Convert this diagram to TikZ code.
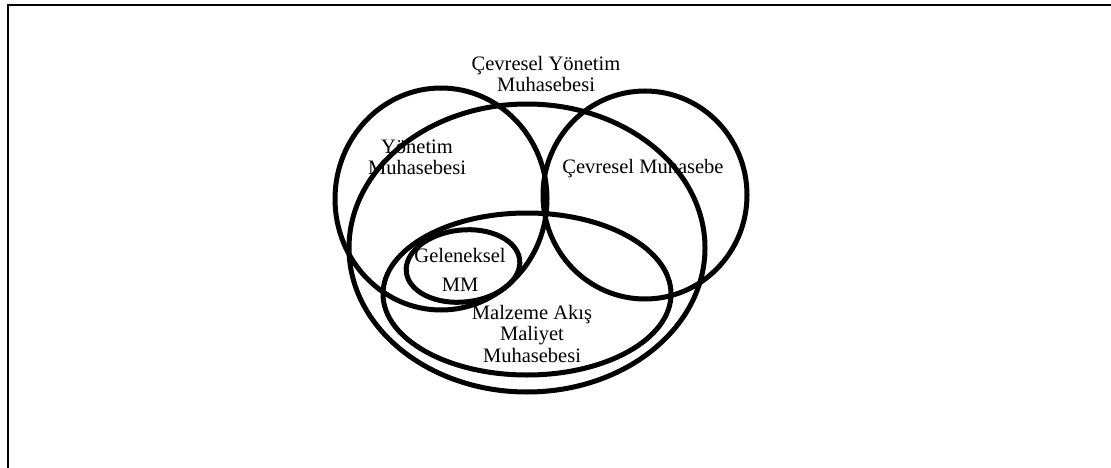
\documentclass[tikz,border=0pt]{standalone}
\usepackage{fontspec}
\setmainfont{Liberation Serif}
\begin{document}
\begin{tikzpicture}[x=1pt,y=-1pt,
  ring/.style={draw=black,line width=5pt},
  lbl/.style={align=center,inner sep=0pt,anchor=base,font=\fontsize{20.5}{21.5}\selectfont}]
\useasboundingbox (0,0) rectangle (1111,468);
% outer frame (open at right and bottom)
\draw[line width=2pt] (8,470) -- (8,5) -- (1113,5);

% sets
\draw[ring] (441,199) ellipse [x radius=106pt, y radius=111pt];   % Yonetim Muhasebesi
\draw[ring] (645,195) ellipse [x radius=102pt, y radius=104pt];   % Cevresel Muhasebe
\draw[ring] (527,248) ellipse [x radius=178pt, y radius=144pt];   % Cevresel Yonetim Muhasebesi
\draw[ring] (527,294) ellipse [x radius=144pt, y radius=81pt];    % Malzeme Akis Maliyet Muhasebesi
\draw[ring,rotate around={6:(463,266)}] (463,266) ellipse [x radius=57pt, y radius=36pt]; % Geleneksel MM

% labels (base anchor sits on the last line)
\node[lbl] (cym) at (546,92) {Çevresel Yönetim\\Muhasebesi};
\node[lbl] (ym) at (417,175) {Yönetim\\Muhasebesi};
\node[lbl] (cm) at (643,173) {Çevresel Muhasebe};
\node[lbl] (gel) at (460,262) {Geleneksel};
\node[lbl] (mm) at (460,291) {MM};
\node[lbl] (mak) at (532,362) {Malzeme Akış\\Maliyet\\Muhasebesi};
\end{tikzpicture}
\end{document}
